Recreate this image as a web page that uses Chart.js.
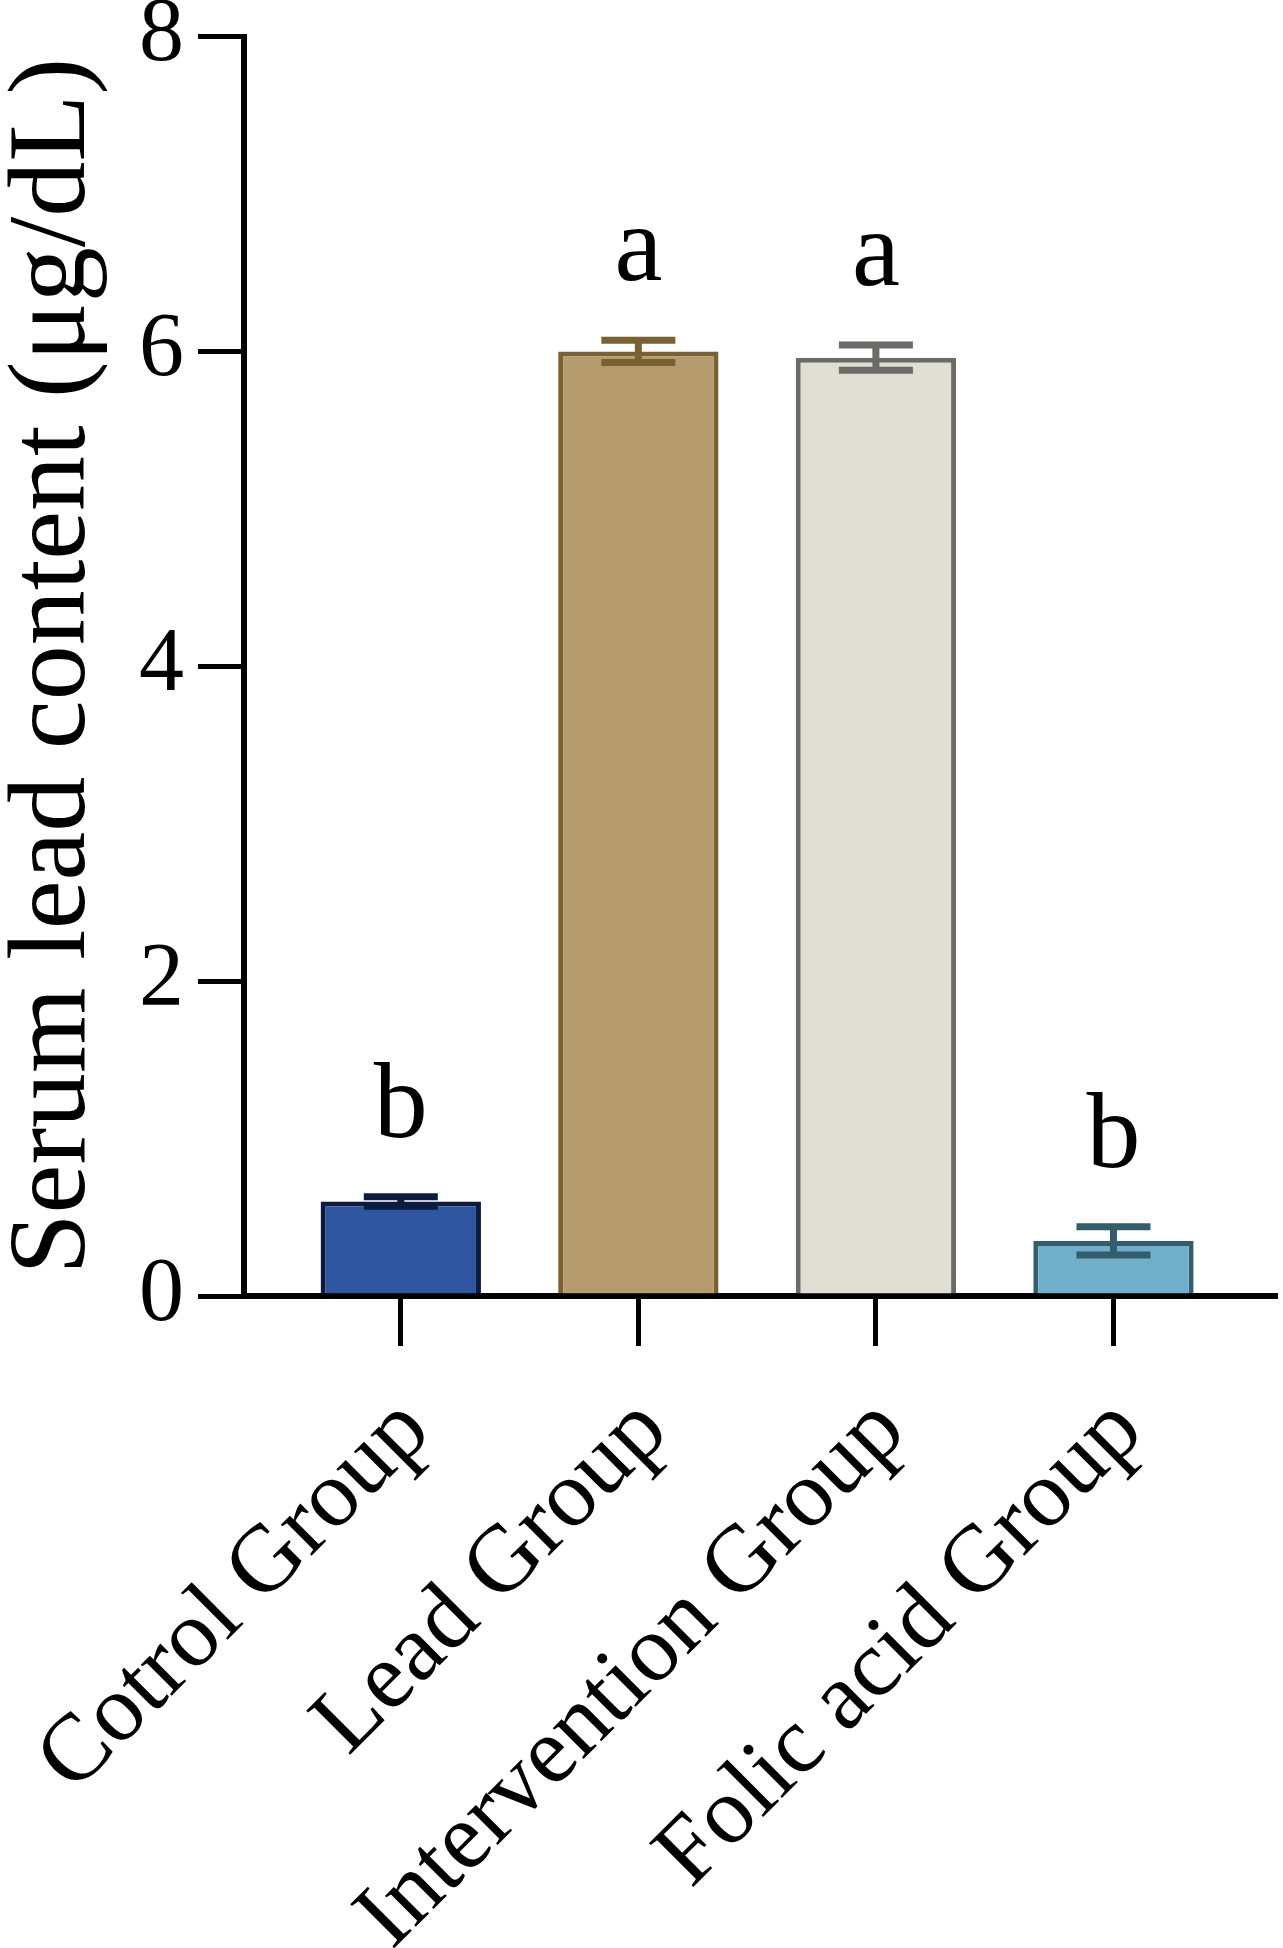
<!DOCTYPE html>
<html>
<head>
<meta charset="utf-8">
<script src="https://cdn.jsdelivr.net/npm/chart.js@4/dist/chart.umd.min.js"></script>
<style>
  html, body { margin: 0; padding: 0; background: #fff; }
  #wrap { width: 1283px; height: 1948px; }
</style>
</head>
<body>
<div id="wrap"><canvas id="lead-chart" width="1283" height="1948"></canvas></div>
<script>
const categories = ["Cotrol Group", "Lead Group", "Intervention Group", "Folic acid Group"];
const means = [0.6, 6.0, 5.96, 0.35];
const errors = [0.03, 0.07, 0.08, 0.09];
const letters = ["b", "a", "a", "b"];
const fillColors = ["#2f56a1", "#b59b6e", "#e1ded4", "#6fafc9"];
const edgeColors = ["#0b1c40", "#7a6132", "#6a6a66", "#335d6b"];

const serif = "'Liberation Serif', 'Times New Roman', serif";

// error bars + significance letters, drawn on top of the bars
const errorBars = {
    id: "errorBars",
    afterDatasetsDraw(chart) {
        const ctx = chart.ctx;
        const xs = chart.scales.x;
        const ys = chart.scales.y;
        ctx.save();
        means.forEach((m, i) => {
            const x = xs.getPixelForValue(i);
            const top = ys.getPixelForValue(m + errors[i]);
            const bot = ys.getPixelForValue(m - errors[i]);
            ctx.strokeStyle = edgeColors[i];
            ctx.lineWidth = 7;
            ctx.beginPath();
            ctx.moveTo(x, top); ctx.lineTo(x, bot);
            ctx.moveTo(x - 37, top); ctx.lineTo(x + 37, top);
            ctx.moveTo(x - 37, bot); ctx.lineTo(x + 37, bot);
            ctx.stroke();

            ctx.fillStyle = "#000";
            ctx.font = "108px " + serif;
            ctx.textAlign = "center";
            ctx.textBaseline = "alphabetic";
            ctx.fillText(letters[i], x, top - 60);
        });
        ctx.restore();
    }
};

const data = {
    datasets: [
        {
            data: means.map((m, i) => ({ x: i, y: m })),
            backgroundColor: fillColors,
            borderColor: edgeColors,
            borderWidth: 5,
            categoryPercentage: 1,
            barPercentage: 0.675,
        },
    ],
};

const config = {
    type: "bar",
    data: data,
    plugins: [errorBars],
    options: {
        responsive: false,
        animation: false,
        devicePixelRatio: 1,
        layout: { padding: { top: 24, right: 8, left: 0, bottom: 0 } },
        plugins: { legend: { display: false }, tooltip: { enabled: false } },
        scales: {
            x: {
                type: "linear",
                min: -0.66,
                max: 3.68,
                offset: false,
                afterFit: (scale) => {
                    scale.height = 652;
                    scale.paddingLeft = 0;
                    scale.paddingRight = 0;
                },
                border: { display: true, color: "#000", width: 6 },
                grid: { offset: false, drawOnChartArea: false, drawTicks: true, tickLength: 50, color: "#000", lineWidth: 5 },
                ticks: {
                    includeBounds: false,
                    stepSize: 1,
                    autoSkip: false,
                    minRotation: 45,
                    maxRotation: 45,
                    padding: 30,
                    labelOffset: 15,
                    color: "#000",
                    font: { family: serif, size: 95 },
                    callback: (v) => categories[v],
                },
            },
            y: {
                min: 0,
                max: 8,
                afterFit: (scale) => { scale.width = 244; },
                border: { display: true, color: "#000", width: 6 },
                grid: { drawOnChartArea: false, drawTicks: true, tickLength: 46, color: "#000", lineWidth: 5 },
                ticks: {
                    stepSize: 2,
                    padding: 14,
                    color: "#000",
                    font: { family: serif, size: 90, lineHeight: 0.5 },
                },
                title: {
                    display: true,
                    text: "Serum lead content (μg/dL)",
                    color: "#000",
                    font: { family: serif, size: 110, lineHeight: 0.9 },
                    padding: { top: 6, bottom: 0 },
                },
            },
        },
    },
};

const dv = document.getElementById("lead-chart");
const leadChart = new Chart(dv, config);
</script>
</body>
</html>
